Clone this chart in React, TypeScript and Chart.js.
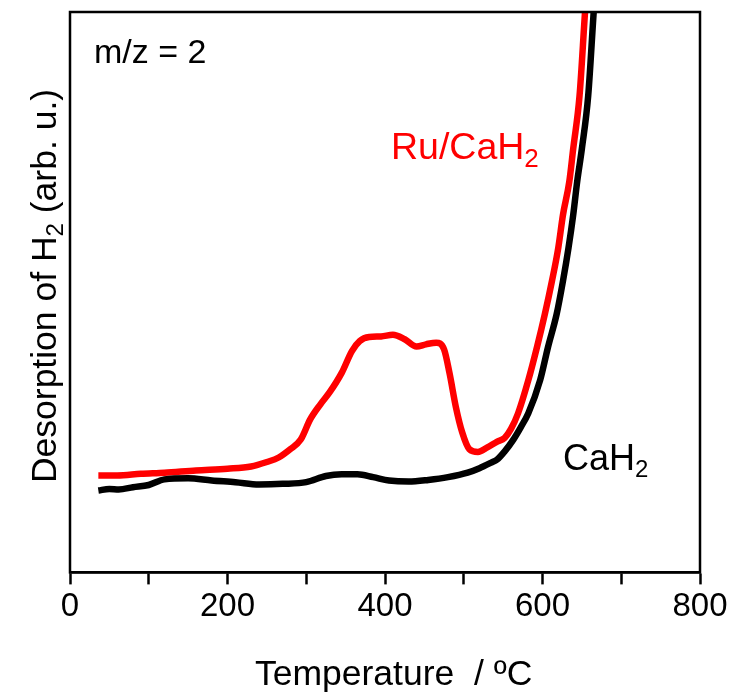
import React, { useEffect, useRef } from "react";
import { Chart, registerables } from "chart.js";

Chart.register(...registerables);

const redT = [36, 60, 90, 120, 160, 200, 230, 250, 265, 280, 293, 305, 318, 330, 345, 358, 368, 380, 395, 410, 425, 440, 452, 465, 475, 482, 490, 498, 507, 518, 530, 542, 552, 560, 569, 582, 593, 603, 612, 620, 626, 634, 639, 647, 654, 660];
const redV = [17.3, 17.3, 17.6, 17.8, 18.2, 18.5, 18.9, 19.7, 20.5, 22.0, 23.7, 27.3, 30.0, 32.2, 35.6, 39.5, 41.3, 42.0, 42.1, 42.4, 41.6, 40.3, 40.7, 41.0, 39.8, 35.5, 29.5, 25.0, 22.0, 21.5, 22.3, 23.3, 24.0, 25.6, 28.4, 34.3, 40.2, 46.1, 52.0, 57.9, 63.8, 69.7, 75.6, 85.0, 100, 112];

const blackT = [36, 50, 62, 80, 100, 120, 150, 180, 210, 240, 270, 300, 325, 345, 365, 385, 405, 430, 455, 480, 505, 520, 535, 542, 552, 563, 572, 582, 597, 607, 618, 626, 633, 639, 644, 650, 658, 665, 671];
const blackV = [14.6, 14.9, 14.8, 15.2, 15.6, 16.6, 16.8, 16.4, 16.1, 15.7, 15.8, 16.1, 17.2, 17.5, 17.5, 17.0, 16.4, 16.2, 16.5, 17.0, 17.8, 18.6, 19.6, 20.1, 21.6, 23.7, 25.8, 28.4, 34.3, 40.2, 46.1, 52.0, 57.9, 63.8, 69.7, 75.6, 85.0, 100, 112];

const xTicksLabeled = [0, 200, 400, 600, 800];

const FONT = '"Liberation Sans", Arial, sans-serif';

type Part = { t: string; sub?: boolean };

function drawParts(ctx: CanvasRenderingContext2D, parts: Part[], x: number, y: number, size: number, color: string) {
  ctx.fillStyle = color;
  ctx.textBaseline = "alphabetic";
  ctx.textAlign = "left";
  let cx = x;
  for (const p of parts) {
    const s = p.sub ? Math.round(size * 0.68) : size;
    ctx.font = `${s}px ${FONT}`;
    ctx.fillText(p.t, cx, p.sub ? y + size * 0.2 : y);
    cx += ctx.measureText(p.t).width;
  }
  return cx - x;
}

function measureParts(ctx: CanvasRenderingContext2D, parts: Part[], size: number) {
  let w = 0;
  for (const p of parts) {
    const s = p.sub ? Math.round(size * 0.68) : size;
    ctx.font = `${s}px ${FONT}`;
    w += ctx.measureText(p.t).width;
  }
  return w;
}

const annotPlugin = {
  id: "annot",
  afterDraw(chart: any) {
    const ctx: CanvasRenderingContext2D = chart.ctx;
    const a = chart.chartArea;
    ctx.save();
    ctx.strokeStyle = "#000";
    ctx.lineWidth = 2.5;
    ctx.strokeRect(a.left, a.top, a.right - a.left, a.bottom - a.top);
    drawParts(ctx, [{ t: "m/z = 2" }], 94, 63, 34, "#000");
    drawParts(ctx, [{ t: "Ru/CaH" }, { t: "2", sub: true }], 391, 159, 37.5, "#ff0000");
    drawParts(ctx, [{ t: "CaH" }, { t: "2", sub: true }], 563, 470, 36, "#000");
    drawParts(ctx, [{ t: "Temperature  / \u00baC" }], 255, 685, 35.5, "#000");
    const yParts: Part[] = [{ t: "Desorption of H" }, { t: "2", sub: true }, { t: " (arb. u.)" }];
    const w = measureParts(ctx, yParts, 35.5);
    ctx.translate(56, 286);
    ctx.rotate(-Math.PI / 2);
    drawParts(ctx, yParts, -w / 2, 0, 35.5, "#000");
    ctx.restore();
  },
};

export default function App() {
  const ref = useRef<HTMLCanvasElement | null>(null);
  useEffect(() => {
    if (!ref.current) return;
    const chart = new Chart(ref.current, {
      type: "line",
      data: {
        datasets: [
          {
            label: "CaH2",
            data: blackT.map((t, i) => ({ x: t, y: blackV[i] })),
            borderColor: "#000",
            borderWidth: 6.5,
            pointRadius: 0,
            cubicInterpolationMode: "monotone",
          },
          {
            label: "Ru/CaH2",
            data: redT.map((t, i) => ({ x: t, y: redV[i] })),
            borderColor: "#ff0000",
            borderWidth: 6.5,
            pointRadius: 0,
            cubicInterpolationMode: "monotone",
          },
        ],
      },
      options: {
        animation: false,
        responsive: false,
        maintainAspectRatio: false,
        layout: { padding: { left: 70, right: 39, top: 12, bottom: 64 } },
        plugins: { legend: { display: false }, tooltip: { enabled: false } },
        scales: {
          x: {
            type: "linear",
            min: 0,
            max: 800,
            border: { display: true, color: "#000", width: 2.5 },
            grid: { drawOnChartArea: false, drawTicks: true, tickLength: 12, tickColor: "#000", tickWidth: 2.5 },
            ticks: {
              stepSize: 100,
              maxRotation: 0,
              autoSkip: false,
              color: "#000",
              font: { family: FONT, size: 33 },
              padding: 3,
              callback: (v: any) => (xTicksLabeled.includes(Number(v)) ? String(v) : ""),
            },
          },
          y: { type: "linear", min: 0, max: 100, display: false },
        },
      },
      plugins: [annotPlugin],
    } as any);
    return () => chart.destroy();
  }, []);
  return (
    <div style={{ position: "fixed", left: 0, top: 0, width: 739, height: 694, background: "#fff" }}>
      <canvas ref={ref} width={739} height={694} style={{ width: 739, height: 694 }} />
    </div>
  );
}
